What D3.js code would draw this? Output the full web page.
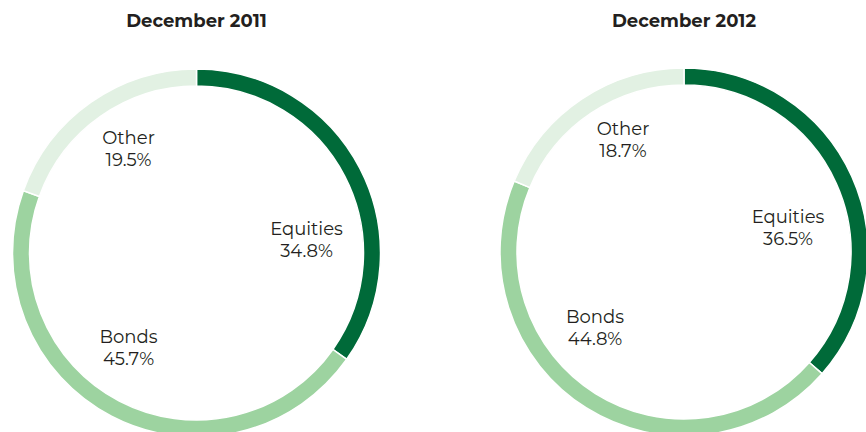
<!DOCTYPE html>
<html>
<head>
<meta charset="utf-8">
<script src="https://cdn.jsdelivr.net/npm/d3@7"></script>
<style>
  body { margin: 0; background: #fff; }
  text { font-family: "Montserrat", "Noto Sans", Lato, sans-serif; fill: #231f20; }
</style>
</head>
<body>
<div id="chart"></div>
<script>
// asset allocation, share of portfolio (%)
var categories = ["Equities", "Bonds", "Other"];
var values2011 = [34.8, 45.7, 19.5];
var values2012 = [36.5, 44.8, 18.7];
var titles = ["December 2011", "December 2012"];

var colors = ["#006a39", "#9dd3a0", "#e2f1e3"];

var width = 866, height = 432;
var outerR = 184, innerR = 167;

// where each chart sits and where its labels go (offset from centre)
var layout = [
    {cx: 196.5, cy: 253, labels: [[110, -18], [-68, 90], [-68, -109]]},
    {cx: 684, cy: 252, labels: [[104, -29], [-89, 71], [-61, -117]]}
];

var svg = d3.select("#chart")
    .append("svg")
    .attr("width", width)
    .attr("height", height);

var pie = d3.pie().sort(null);
var arc = d3.arc().innerRadius(innerR).outerRadius(outerR);

[values2011, values2012].forEach(function(values, i) {
    var l = layout[i];
    var g = svg.append("g")
        .attr("transform", "translate(" + l.cx + "," + l.cy + ")");

    g.selectAll("path")
        .data(pie(values))
        .enter()
        .append("path")
        .attr("d", arc)
        .style("fill", function(d, j) { return colors[j]; })
        .style("stroke", "#fff")
        .style("stroke-width", 1.5);

    var lab = g.selectAll(".lab")
        .data(values)
        .enter()
        .append("text")
        .attr("class", "lab")
        .attr("text-anchor", "middle")
        .attr("transform", function(d, j) {
            return "translate(" + l.labels[j][0] + "," + l.labels[j][1] + ")";
        })
        .style("font-size", "18px");
    lab.append("tspan")
        .attr("x", 0)
        .text(function(d, j) { return categories[j]; });
    lab.append("tspan")
        .attr("x", 0)
        .attr("dy", 22)
        .text(function(d) { return d.toFixed(1) + "%"; });

    svg.append("text")
        .attr("x", l.cx)
        .attr("y", 26.5)
        .attr("text-anchor", "middle")
        .style("font-size", "18px")
        .style("font-weight", "bold")
        .text(titles[i]);
});
</script>
</body>
</html>
